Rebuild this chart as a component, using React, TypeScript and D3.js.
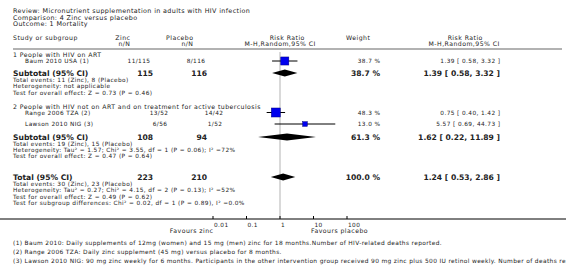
import React from "react";
import * as d3 from "d3";

const titleLines = [
  "Review:  Micronutrient supplementation in adults with HIV infection",
  "Comparison:  4 Zinc versus placebo",
  "Outcome:  1 Mortality",
];

const groupHeadings = [
  "1 People with HIV on ART",
  "2 People with HIV not on ART and on treatment for active tuberculosis",
];

const studyNames = ["Baum 2010 USA (1)", "Range 2006 TZA (2)", "Lawson 2010 NIG (3)"];
const studyZinc = ["11/115", "13/52", "6/56"];
const studyPlacebo = ["8/116", "14/42", "1/52"];
const studyWeight = [38.7, 48.3, 13.0];
const studyRR = [1.39, 0.75, 5.57];
const studyLo = [0.58, 0.4, 0.69];
const studyHi = [3.32, 1.42, 44.73];

const subLabels = ["Subtotal (95% CI)", "Subtotal (95% CI)", "Total (95% CI)"];
const subZinc = ["115", "108", "223"];
const subPlacebo = ["116", "94", "210"];
const subWeight = [38.7, 61.3, 100.0];
const subRR = [1.39, 1.62, 1.24];
const subLo = [0.58, 0.22, 0.53];
const subHi = [3.32, 11.89, 2.86];

const subNotes = [
  [
    "Total events: 11 (Zinc), 8 (Placebo)",
    "Heterogeneity: not applicable",
    "Test for overall effect: Z = 0.73 (P = 0.46)",
  ],
  [
    "Total events: 19 (Zinc), 15 (Placebo)",
    "Heterogeneity: Tau\u00b2 = 1.57; Chi\u00b2 = 3.55, df = 1 (P = 0.06); I\u00b2 =72%",
    "Test for overall effect: Z = 0.47 (P = 0.64)",
  ],
  [
    "Total events: 30 (Zinc), 23 (Placebo)",
    "Heterogeneity: Tau\u00b2 = 0.27; Chi\u00b2 = 4.15, df = 2 (P = 0.13); I\u00b2 =52%",
    "Test for overall effect: Z = 0.49 (P = 0.62)",
    "Test for subgroup differences: Chi\u00b2 = 0.02, df = 1 (P = 0.89), I\u00b2 =0.0%",
  ],
];

const tickValues = [0.01, 0.1, 1, 10, 100];
const tickLabels = ["0.01", "0.1", "1", "10", "100"];

const footnotes = [
  "(1) Baum 2010: Daily supplements of 12mg (women) and 15 mg (men) zinc for 18 months.Number of HIV-related deaths reported.",
  "(2) Range 2006 TZA: Daily zinc supplement (45 mg) versus placebo for 8 months.",
  "(3) Lawson 2010 NIG: 90 mg zinc weekly for 6 months. Participants in the other intervention group received 90 mg zinc plus 500 IU retinol weekly. Number of deaths reported.",
];

const FONT = "DejaVu Sans, Verdana, sans-serif";
const TXT = "#222";
const fmt = (v: number) => v.toFixed(2);
const fmtCI = (r: number, l: number, h: number) => `${fmt(r)} [ ${fmt(l)}, ${fmt(h)} ]`;

type Opt = { anchor?: string; size?: number; weight?: string; ls?: number };

export default function App() {
  const W = 566;
  const H = 274;
  const x = d3.scaleLog().domain([0.01, 100]).range([213, 347]);
  const sq = d3.scaleSqrt().domain([0, 48.3]).range([0, 9]);

  const studyY = [61, 112.5, 124];
  const headingY = [55, 107];
  const subY = [73, 137, 177];
  const noteStart = [80, 143.5, 184];
  const noteStep = 6.3;
  const axisY = 219;

  const zincRight = [150, 168, 167];
  const placeboRight = [205, 223, 222];

  const SM: Opt = { size: 5.8, ls: 0.4 };
  const HD: Opt = { size: 6.2, ls: 0.45 };
  const BD: Opt = { size: 7.6, weight: "bold", ls: 0 };

  const t = (key: string, xx: number, yy: number, s: string, opts: Opt = {}) => {
    const ls = opts.ls ?? 0.4;
    const anchor = opts.anchor || "start";
    // compensate trailing letter-spacing for end/middle anchored texts
    const shift = anchor === "end" ? ls : anchor === "middle" ? ls / 2 : 0;
    return (
      <text
        key={key}
        x={xx + shift}
        y={yy}
        dy="0.35em"
        textAnchor={anchor}
        fontSize={opts.size || 5.8}
        fontWeight={opts.weight || "normal"}
        fontFamily={FONT}
        letterSpacing={ls}
        fill={TXT}
      >
        {s}
      </text>
    );
  };

  const diamond = (r: number, l: number, h: number, cy: number) => {
    const hh = 3.5;
    return `M${x(l)},${cy} L${x(r)},${cy - hh} L${x(h)},${cy} L${x(r)},${cy + hh} Z`;
  };

  return (
    <div style={{ position: "absolute", left: 0, top: 0 }}>
      <svg width={W} height={H} style={{ display: "block", background: "#fff" }}>
        <rect width={W} height={H} fill="#fff" />
        {titleLines.map((s, i) => t("title" + i, 13, 11 + i * 6.6, s, { size: 6.4, ls: 0.36 }))}

        {t("h1", 13, 38, "Study or subgroup", HD)}
        {t("h2", 130, 38, "Zinc", { ...HD, anchor: "end" })}
        {t("h3", 130, 44, "n/N", { ...HD, anchor: "end" })}
        {t("h4", 193, 38, "Placebo", { ...HD, anchor: "end" })}
        {t("h5", 193, 44, "n/N", { ...HD, anchor: "end" })}
        {t("h6", 287, 38, "Risk Ratio", { ...HD, anchor: "middle" })}
        {t("h7", 280, 44, "M-H,Random,95% CI", { ...HD, anchor: "middle" })}
        {t("h8", 346, 38, "Weight", HD)}
        {t("h9", 465, 38, "Risk Ratio", { ...HD, anchor: "middle" })}
        {t("h10", 464, 44, "M-H,Random,95% CI", { ...HD, anchor: "middle" })}

        <line x1={13} x2={562} y1={49} y2={49} stroke="#999" strokeWidth={1.6} />

        <line x1={x(1)} x2={x(1)} y1={52} y2={axisY - 1} stroke="#ccc" strokeWidth={1.5} />

        {groupHeadings.map((s, i) => t("gh" + i, 13, headingY[i], s, HD))}

        {studyNames.map((name, i) => {
          const y = studyY[i];
          const s = sq(studyWeight[i]);
          return (
            <g key={"st" + i}>
              {t("sn" + i, 25, y, name, SM)}
              {t("sz" + i, zincRight[i], y, studyZinc[i], { ...SM, anchor: "end" })}
              {t("sp" + i, placeboRight[i], y, studyPlacebo[i], { ...SM, anchor: "end" })}
              {t("sw" + i, 380, y, `${studyWeight[i].toFixed(1)} %`, { ...SM, anchor: "end" })}
              {t("sr" + i, 500, y, fmtCI(studyRR[i], studyLo[i], studyHi[i]), { ...SM, anchor: "end" })}
              <line x1={x(studyLo[i])} x2={x(studyHi[i])} y1={y} y2={y} stroke="#000" strokeWidth={1} />
              <rect
                x={x(studyRR[i]) - s / 2}
                y={y - s / 2}
                width={s}
                height={s}
                fill="#0000ee"
                stroke="#000080"
                strokeWidth={0.5}
              />
            </g>
          );
        })}

        {subLabels.map((lab, i) => {
          const y = subY[i];
          return (
            <g key={"sub" + i}>
              {t("sl" + i, 13, y, lab, BD)}
              {t("sz" + i, 153, y, subZinc[i], { ...BD, anchor: "end" })}
              {t("sp" + i, 207, y, subPlacebo[i], { ...BD, anchor: "end" })}
              {t("sw" + i, 380, y, `${subWeight[i].toFixed(1)} %`, { ...BD, anchor: "end" })}
              {t("sr" + i, 500, y, fmtCI(subRR[i], subLo[i], subHi[i]), { ...BD, anchor: "end" })}
              <path d={diamond(subRR[i], subLo[i], subHi[i], y)} fill="#000" />
              {subNotes[i].map((n, j) => t("note" + i + "_" + j, 13, noteStart[i] + j * noteStep, n, SM))}
            </g>
          );
        })}

        <line x1={0} x2={566} y1={axisY} y2={axisY} stroke="#000" strokeWidth={1} />
        {tickValues.map((v, i) => (
          <g key={"tick" + i}>
            <line x1={x(v)} x2={x(v)} y1={axisY - 3} y2={axisY} stroke="#000" strokeWidth={1} />
            {t("tl" + i, x(v) + 1, 225, tickLabels[i], SM)}
          </g>
        ))}
        {t("fz", 213, 231, "Favours zinc", { ...HD, anchor: "end" })}
        {t("fp", 311, 231, "Favours placebo", HD)}

        {footnotes.map((s, i) => t("fn" + i, 13, 243 + i * 9.2, s, { size: 5.9, ls: 0.35 }))}
      </svg>
    </div>
  );
}
